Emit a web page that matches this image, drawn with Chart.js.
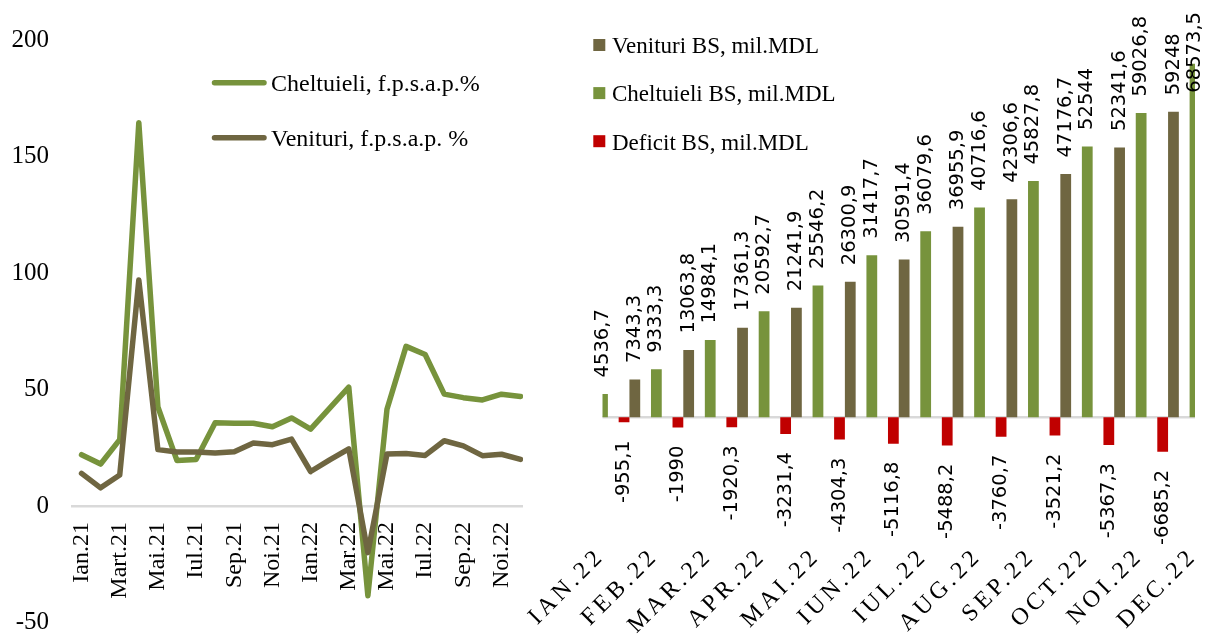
<!DOCTYPE html>
<html>
<head>
<meta charset="utf-8">
<script src="https://cdn.jsdelivr.net/npm/chart.js@4.4.1/dist/chart.umd.min.js"></script>
<style>
  html, body { margin: 0; padding: 0; background: #fff; }
  body { width: 1206px; height: 635px; position: relative; overflow: hidden; }
  #leftWrap { position: absolute; left: 0; top: 0; width: 523px; height: 635px; overflow: hidden; }
  #lineChart { position: absolute; left: 0; top: 0; }
  #barChart { position: absolute; left: 524px; top: 0; }
</style>
</head>
<body>
<div id="leftWrap"><canvas id="lineChart" width="566" height="658"></canvas></div>
<canvas id="barChart" width="682" height="635"></canvas>
<script>
/* data: line chart */
const months = ['Ian.21', 'Feb.21', 'Mart.21', 'Apr.21', 'Mai.21', 'Iun.21', 'Iul.21', 'Aug.21', 'Sep.21', 'Oct.21', 'Noi.21', 'Dec.21',
                'Ian.22', 'Feb.22', 'Mar.22', 'Apr.22', 'Mai.22', 'Iun.22', 'Iul.22', 'Aug.22', 'Sep.22', 'Oct.22', 'Noi.22', 'Dec.22'];
const cheltuieliPct = [22, 18, 28.5, 164.5, 42.5, 19.5, 20, 35.7, 35.5, 35.5, 34, 37.8, 33, 42, 51, -38.5, 41.5, 68.5, 65, 48, 46.5, 45.5, 48, 47];
const venituriPct = [14, 7.8, 13.3, 97, 24.2, 23.2, 23.2, 22.7, 23.3, 27, 26.3, 28.7, 14.8, 19.8, 24.5, -20, 22.3, 22.5, 21.7, 28, 25.8, 21.6, 22.2, 20];

/* data: bar chart */
const barMonths = ['IAN.22', 'FEB.22', 'MAR.22', 'APR.22', 'MAI.22', 'IUN.22', 'IUL.22', 'AUG.22', 'SEP.22', 'OCT.22', 'NOI.22', 'DEC.22'];
const venituriBS = [3581.6, 7343.3, 13063.8, 17361.3, 21241.9, 26300.9, 30591.4, 36955.9, 42306.6, 47176.7, 52341.6, 59248];
const cheltuieliBS = [4536.7, 9333.3, 14984.1, 20592.7, 25546.2, 31417.7, 36079.6, 40716.6, 45827.8, 52544, 59026.8, 68573.5];
const deficitBS = [-955.1, -1990, -1920.3, -3231.4, -4304.3, -5116.8, -5488.2, -3760.7, -3521.2, -5367.3, -6685.2, -9325.5];

const OLIVE = '#6F6641';
const GREEN = '#77933C';
const RED = '#C00000';
const SERIF = '"Liberation Serif", "Times New Roman", serif';

/* legend inside the line chart */
const lineLegend = {
    id: 'lineLegend',
    afterDraw(chart) {
        const ctx = chart.ctx;
        ctx.save();
        ctx.lineWidth = 5.5;
        ctx.lineCap = 'round';
        ctx.font = '24px ' + SERIF;
        ctx.fillStyle = '#000';
        ctx.textBaseline = 'alphabetic';
        chart.data.datasets.forEach((ds, i) => {
            const y = 82.7 + i * 55;
            ctx.strokeStyle = ds.borderColor;
            ctx.beginPath();
            ctx.moveTo(214.5, y);
            ctx.lineTo(264, y);
            ctx.stroke();
            ctx.fillText(ds.label, 271, y + 8.5);
        });
        ctx.restore();
    }
};

/* line chart */
new Chart(document.getElementById('lineChart'), {
    type: 'line',
    data: {
        labels: months,
        datasets: [
            { label: 'Cheltuieli, f.p.s.a.p.%', data: cheltuieliPct, borderColor: GREEN, order: 1 },
            { label: 'Venituri, f.p.s.a.p. %', data: venituriPct, borderColor: OLIVE, order: 0 }
        ]
    },
    options: {
        responsive: false,
        animation: false,
        layout: { padding: { left: 0, top: 40, right: 28.8, bottom: 12.5 } },
        elements: {
            line: { borderWidth: 5.5, tension: 0, borderCapStyle: 'round', borderJoinStyle: 'round', fill: false },
            point: { radius: 0 }
        },
        plugins: { legend: { display: false }, tooltip: { enabled: false } },
        scales: {
            x: {
                position: { y: 0 },
                offset: true,
                grid: { display: false, drawTicks: false },
                border: { display: true, color: '#D9D9D9', width: 2.5 },
                ticks: {
                    autoSkip: false, maxRotation: 90, minRotation: 90, padding: 16, color: '#000',
                    font: { family: SERIF, size: 24 },
                    callback: function (v, i) { return i % 2 === 0 ? this.getLabelForValue(v) : ''; }
                },
                afterFit: s => { s.height = 0; }
            },
            y: {
                min: -50, max: 200,
                ticks: { stepSize: 50, padding: 23, color: '#000', font: { family: SERIF, size: 25, lineHeight: 1 } },
                grid: { display: false, drawTicks: false },
                border: { display: false },
                afterFit: s => { s.width = 72; }
            }
        }
    },
    plugins: [lineLegend]
});
/* line chart */

/* bar chart helpers */
const zeroLine = {
    id: 'zeroLine',
    beforeDatasetsDraw(chart) {
        const { ctx, chartArea } = chart;
        const y0 = chart.scales.y.getPixelForValue(0);
        ctx.save();
        ctx.strokeStyle = '#D9D9D9';
        ctx.lineWidth = 2.5;
        ctx.beginPath();
        ctx.moveTo(chartArea.left, y0);
        ctx.lineTo(chartArea.right, y0);
        ctx.stroke();
        ctx.restore();
    }
};

const barLabels = {
    id: 'barLabels',
    afterDatasetsDraw(chart) {
        const { ctx, chartArea } = chart;
        ctx.save();
        ctx.font = '19.5px "DejaVu Sans", sans-serif';
        ctx.fillStyle = '#000';
        ctx.textBaseline = 'middle';
        chart.data.datasets.forEach((ds, di) => {
            chart.getDatasetMeta(di).data.forEach((bar, i) => {
                if (bar.x < chartArea.left - 2 || bar.x > chartArea.right + 2) return;
                const v = ds.data[i];
                const txt = String(v).replace('.', ',');
                const w = ctx.measureText(txt).width;
                ctx.save();
                if (v >= 0) {
                    let y = bar.y - 16.5;
                    if (y - w < 12) y = 12 + w;
                    ctx.translate(bar.x, y);
                    ctx.textAlign = 'left';
                } else {
                    ctx.translate(bar.x, bar.y + 18);
                    ctx.textAlign = 'right';
                }
                ctx.rotate(-Math.PI / 2);
                ctx.fillText(txt, 0, 0);
                ctx.restore();
            });
        });
        ctx.restore();
    }
};

const monthLabels = {
    id: 'monthLabels',
    afterDraw(chart) {
        const ctx = chart.ctx;
        const xs = chart.scales.x;
        ctx.save();
        ctx.font = '24px ' + SERIF;
        ctx.letterSpacing = '4px';
        ctx.fillStyle = '#000';
        ctx.textAlign = 'right';
        ctx.textBaseline = 'alphabetic';
        barMonths.forEach((m, i) => {
            const x = xs.getPixelForTick(i);
            ctx.save();
            ctx.translate(x + 3, 557);
            ctx.rotate(-Math.PI / 4);
            ctx.fillText(m, 0, 0);
            ctx.restore();
        });
        ctx.restore();
    }
};

const barLegend = {
    id: 'barLegend',
    afterDraw(chart) {
        const ctx = chart.ctx;
        ctx.save();
        ctx.font = '23px ' + SERIF;
        ctx.textBaseline = 'alphabetic';
        chart.data.datasets.forEach((ds, i) => {
            const cy = 45 + i * 48.1;
            ctx.fillStyle = ds.backgroundColor;
            ctx.fillRect(69.3, cy - 6, 12, 12);
            ctx.fillStyle = '#000';
            ctx.fillText(ds.label, 88, cy + 8.3);
        });
        ctx.restore();
    }
};

/* bar chart */
new Chart(document.getElementById('barChart'), {
    type: 'bar',
    data: {
        labels: barMonths,
        datasets: [
            { label: 'Venituri BS, mil.MDL', data: venituriBS, backgroundColor: OLIVE, clip: 0 },
            { label: 'Cheltuieli BS, mil.MDL', data: cheltuieliBS, backgroundColor: GREEN, clip: 0 },
            { label: 'Deficit BS, mil.MDL', data: deficitBS, backgroundColor: RED, clip: 0 }
        ]
    },
    options: {
        responsive: false,
        animation: false,
        layout: { padding: { left: 78.5, right: 11, top: 56.4, bottom: 155.8 } },
        datasets: { bar: { categoryPercentage: 1.2, barPercentage: 0.5 } },
        plugins: { legend: { display: false }, tooltip: { enabled: false } },
        scales: {
            x: { display: false, offset: false },
            y: { display: false, min: -12000, max: 70000 }
        }
    },
    plugins: [zeroLine, barLabels, monthLabels, barLegend]
});
/* bar chart */
</script>
</body>
</html>
